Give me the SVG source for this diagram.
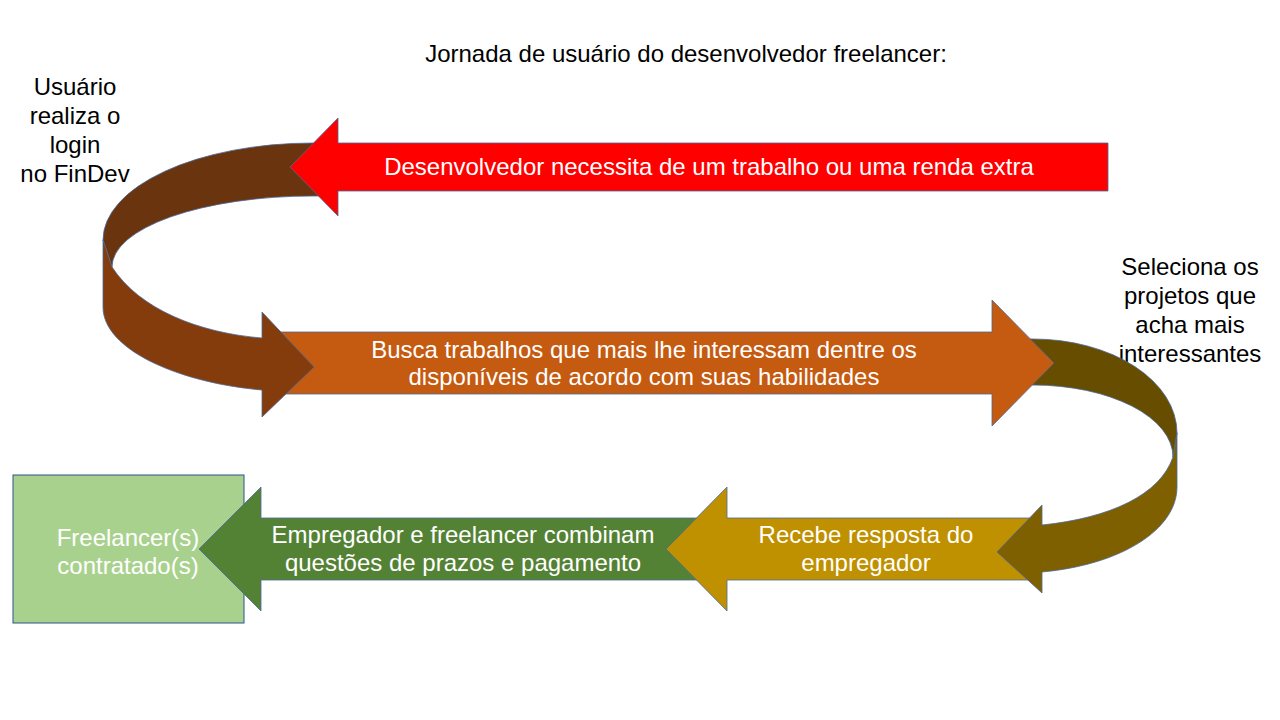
<svg xmlns="http://www.w3.org/2000/svg" width="1280" height="720" viewBox="0 0 1280 720">
<style>
text{font-family:"Liberation Sans",Arial,sans-serif;font-size:24px;text-anchor:middle}
.w{fill:#ffffff}
.k{fill:#000000}
.o{stroke:#4A6A9A;stroke-width:0.8;stroke-linejoin:miter}
</style>
<rect width="1280" height="720" fill="#ffffff"/>
<text class="k" x="686" y="62">Jornada de usuário do desenvolvedor freelancer:</text>
<g id="label-login">
<text class="k" x="75" y="95">Usuário</text>
<text class="k" x="75" y="124">realiza o</text>
<text class="k" x="75" y="153">login</text>
<text class="k" x="75" y="182">no FinDev</text>
</g>
<g id="label-seleciona">
<text class="k" x="1190" y="275">Seleciona os</text>
<text class="k" x="1190" y="304">projetos que</text>
<text class="k" x="1190" y="333">acha mais</text>
<text class="k" x="1190" y="362">interessantes</text>
</g>
<g id="node-contratado">
<rect x="13" y="475" width="231" height="148" fill="#A9D18E" stroke="#2F528F" stroke-width="1"/>
<text class="w" x="128" y="546">Freelancer(s)</text>
<text class="w" x="128" y="574">contratado(s)</text>
</g>
<g id="connectors">
<g id="arrow-combinam">
<path class="o" fill="#548235" d="M720,518 L261,518 L261,487 L199,549 L261,611 L261,580 L720,580 Z"/>
</g>
<g id="arrow-recebe">
<path class="o" fill="#BF9000" d="M1030,518 L727,518 L727,487 L666,549 L727,611 L727,580 L1030,580 Z"/>
</g>
<g id="curve-right">
<path class="o" fill="#664D00" d="M1015,339 L1033,339 A144,94 0 0 1 1177,433 L1173,457 A140,72 0 0 0 1033,385 L1015,385 Z"/>
<path class="o" fill="#7F6000" d="M1177,433 L1173,457 C1160,495 1110,518 1042,525 L1042,505 L997,552 L1042,593 L1042,572 C1120,565 1177,530 1177,487 Z"/>
</g>
<g id="arrow-busca">
<path class="o" fill="#C55A11" d="M270,332 L992,332 L992,300 L1054,363 L992,426 L992,394 L270,394 Z"/>
</g>
<g id="curve-left">
<path class="o" fill="#6A340F" d="M330,143 L313,143 A210,97 0 0 0 103,240 L112,267 A201,71 0 0 1 313,196 L330,196 Z"/>
<path class="o" fill="#843C0C" d="M103,240 L112,267 C140,310 200,333 262,338 L262,312 L314,367 L262,417 L262,390 C180,383 103,350 103,307 Z"/>
</g>
<g id="arrow-necessita">
<path class="o" fill="#FF0000" d="M1108,143 L338,143 L338,118 L290,167 L338,216 L338,191 L1108,191 Z"/>
</g>
</g>
<g id="text-necessita"><text class="w" x="709" y="175">Desenvolvedor necessita de um trabalho ou uma renda extra</text></g>
<g id="text-busca">
<text class="w" x="644" y="358">Busca trabalhos que mais lhe interessam dentre os</text>
<text class="w" x="644" y="385">disponíveis de acordo com suas habilidades</text>
</g>
<g id="text-recebe">
<text class="w" x="866" y="543">Recebe resposta do</text>
<text class="w" x="866" y="571">empregador</text>
</g>
<g id="text-combinam">
<text class="w" x="463" y="543">Empregador e freelancer combinam</text>
<text class="w" x="463" y="571">questões de prazos e pagamento</text>
</g>
</svg>
